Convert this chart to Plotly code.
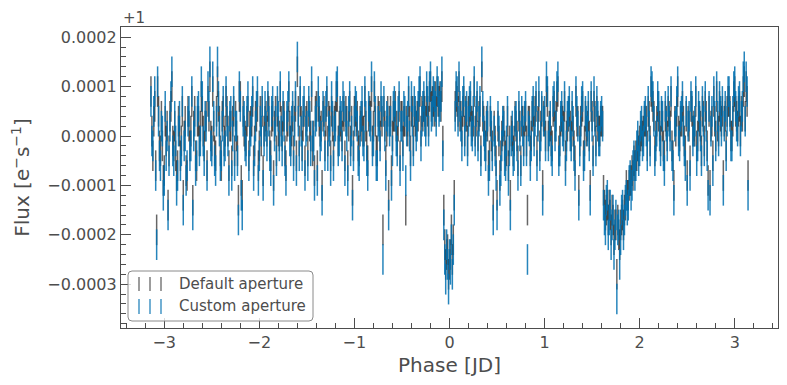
import plotly.graph_objects as go

# ---------------- data: first set of cadences ----------------
# Phase [JD]
phase_a = [
    -3.14, -3.12, -3.10, -3.08, -3.06, -3.04, -3.02, -3.00, -2.98, -2.96,
    -2.94, -2.92, -2.90, -2.88, -2.86, -2.84, -2.82, -2.80, -2.78, -2.76,
    -2.74, -2.72, -2.70, -2.68, -2.66, -2.64, -2.62, -2.60, -2.58, -2.56,
    -2.54, -2.52, -2.50, -2.48, -2.46, -2.44, -2.42, -2.40, -2.38, -2.36,
    -2.34, -2.32, -2.30, -2.28, -2.26, -2.24, -2.22, -2.20, -2.18, -2.16,
    -2.14, -2.12, -2.10, -2.08, -2.06, -2.04, -2.02, -2.00, -1.98, -1.96,
    -1.94, -1.92, -1.90, -1.88, -1.86, -1.84, -1.82, -1.80, -1.78, -1.76,
    -1.74, -1.72, -1.70, -1.68, -1.66, -1.64, -1.62, -1.60, -1.58, -1.56,
    -1.54, -1.52, -1.50, -1.48, -1.46, -1.44, -1.42, -1.40, -1.38, -1.36,
    -1.34, -1.32, -1.30, -1.28, -1.26, -1.24, -1.22, -1.20, -1.18, -1.16,
    -1.14, -1.12, -1.10, -1.08, -1.06, -1.04, -1.02, -1.00, -0.98, -0.96,
    -0.94, -0.92, -0.90, -0.88, -0.86, -0.84, -0.82, -0.80, -0.78, -0.76,
    -0.74, -0.72, -0.70, -0.68, -0.66, -0.64, -0.62, -0.60, -0.58, -0.56,
    -0.54, -0.52, -0.50, -0.48, -0.46, -0.44, -0.42, -0.40, -0.38, -0.36,
    -0.34, -0.32, -0.30, -0.28, -0.26, -0.24, -0.22, -0.20, -0.18, -0.16,
    -0.14, -0.12, -0.10, -0.08,
    -0.07,
    -0.06, -0.05, -0.04, -0.03, -0.02, -0.01, 0.00, 0.01, 0.02, 0.03, 0.04, 0.05,
    0.06, 0.08, 0.10, 0.12, 0.14, 0.16, 0.18, 0.20, 0.22, 0.24,
    0.26, 0.28, 0.30, 0.32, 0.34, 0.36, 0.38, 0.40, 0.42, 0.44,
    0.46, 0.48, 0.50, 0.52, 0.54, 0.56, 0.58, 0.60, 0.62, 0.64,
    0.66, 0.68, 0.70, 0.72, 0.74, 0.76, 0.78, 0.80, 0.82, 0.84,
    0.86, 0.88, 0.90, 0.92, 0.94, 0.96, 0.98, 1.00, 1.02, 1.04,
    1.06, 1.08, 1.10, 1.12, 1.14, 1.16, 1.18, 1.20, 1.22, 1.24,
    1.26, 1.28, 1.30, 1.32, 1.34, 1.36, 1.38, 1.40, 1.42, 1.44,
    1.46, 1.48, 1.50, 1.52, 1.54, 1.56, 1.58, 1.60, 1.62, 1.64,
    1.66, 1.68, 1.70, 1.72, 1.74, 1.76, 1.78, 1.80, 1.82, 1.84,
    1.86, 1.88, 1.90, 1.92, 1.94, 1.96, 1.98, 2.00, 2.02, 2.04,
    2.06, 2.08, 2.10, 2.12, 2.14, 2.16, 2.18, 2.20, 2.22, 2.24,
    2.26, 2.28, 2.30, 2.32, 2.34, 2.36, 2.38, 2.40, 2.42, 2.44,
    2.46, 2.48, 2.50, 2.52, 2.54, 2.56, 2.58, 2.60, 2.62, 2.64,
    2.66, 2.68, 2.70, 2.72, 2.74, 2.76, 2.78, 2.80, 2.82, 2.84,
    2.86, 2.88, 2.90, 2.92, 2.94, 2.96, 2.98, 3.00, 3.02, 3.04,
    3.06, 3.08, 3.10, 3.12, 3.14,
]

# Normalised flux minus 1, in units of 1e-5
flux_default_a = [
    9, -4, 6, -19, 5, -3, -2, -7, -1, -14,
    4, 10, -2, -4, -6, 1, -1, -12, 3, -8,
    2, 1, -13, 5, -6, 3, 2, 5, -2, 4,
    7, 12, -1, 2, -4, 11, 3, -6, 5, 1,
    5, -6, 2, 3, -3, 0, -13, 8, -12, 1,
    -1, 5, 2, 3, -5, 4, 6, -2, -1, -7,
    3, 1, 5, -4, 4, 2, -3, 1, 8, 0,
    4, -6, 3, 2, 1, -3, 6, 13, -1, 3,
    2, -5, 4, 5, 0, -3, -7, 6, 6, 1,
    -10, 5, 3, -1, 3, 5, -3, 4, 8, 2,
    2, 5, -4, 3, 2, -1, -11, 5, 3, -2,
    3, 4, 1, 2, -5, 5, 9, 2, 3, -3,
    4, 5, -19, 2, 1, -12, 5, 0, 4, 2,
    2, -4, 4, 3, -15, 1, 3, 5, -1, 3,
    4, 6, 1, 4, 5, 7, 3, 10, 7, 5,
    5, 7, 8, 10,
    -1,
    -15, -22, -26, -24, -23, -28, -26, -24, -19, -25, -21, -12,
    6, 7, 10, 4, 5, 1, 4, 5, 6, 2,
    9, 3, 0, 5, 12, 3, -2, 2, -4, 0,
    -14, -1, -12, -1, -4, 1, -2, -3, -6, -12,
    0, -1, 2, -5, 2, 3, -1, 4, -15, 3,
    0, 5, 5, -3, 6, 2, -10, 3, 9, 0,
    2, -2, 6, 4, 9, -1, 4, 2, -4, 2,
    5, 0, 1, -5, 3, -11, 3, 6, -1, 1,
    4, -10, 4, 6, -1, 2, 1, 3, -11, -16,
    -14, -14, -19, -17, -18, -28, -20, -18, -16, -15,
    -10, -12, -9, -7, -5, -4, -2, -1, 1, 1,
    3, -2, 4, 9, 6, -3, 3, 4, -1, 2,
    -4, 3, 5, 2, -2, -10, 1, 9, 0, 3,
    3, -3, -8, 2, 6, 1, 1, -2, 4, 2,
    5, -1, 4, -9, -10, 3, 7, 0, 2, 6,
    3, -8, 4, 5, 7, 0, 3, 9, 4, 5,
    1, 4, 11, 10, -8,
]

flux_custom_a = [
    7, -2, 9, -22, 3, -6, 1, -9, -4, -16,
    2, 13, -5, -1, -8, 4, -3, -15, 0, -6,
    5, -2, -16, 3, -4, 6, -1, 8, -5, 2,
    10, 15, -3, 4, -7, 15, 1, -4, 7, -2,
    3, -9, 5, 0, -6, 2, -17, 6, -16, 4,
    -3, 8, -1, 5, -8, 2, 9, -4, 1, -10,
    6, -2, 3, -7, 7, 0, -5, 4, 10, -3,
    2, -9, 6, -1, 3, -6, 8, 16, -4, 1,
    5, -8, 2, 7, -3, 0, -10, 4, 9, -2,
    -13, 3, 6, -4, 1, 8, -6, 2, 11, -1,
    4, 8, -7, 0, 5, -3, -14, 3, 6, -5,
    1, 7, -2, 4, -8, 3, 12, -1, 5, -6,
    2, 8, -25, 0, 4, -16, 3, -3, 7, -1,
    5, -7, 2, 6, -9, 4, 0, 8, -3, 5,
    2, 9, -2, 6, 3, 10, 1, 12, 5, 8,
    3, 9, 6, 13,
    -4,
    -18, -25, -29, -22, -26, -31, -24, -27, -21, -28, -23, -15,
    4, 9, 12, 2, 7, -1, 6, 3, 8, 0,
    11, 5, -2, 7, 15, 1, -4, 4, -6, 2,
    -17, -3, -16, 1, -7, 3, -5, -1, -9, -16,
    2, -4, 4, -8, 0, 5, -3, 6, -25, 1,
    -2, 7, 3, -6, 9, 0, -13, 5, 12, -2,
    4, -5, 8, 2, 12, -3, 6, 0, -7, 4,
    7, -2, 3, -8, 5, -14, 1, 8, -4, 3,
    6, -13, 2, 9, -3, 4, -1, 5, -14, -19,
    -12, -17, -22, -15, -20, -33, -18, -21, -14, -17,
    -12, -14, -8, -10, -4, -6, 0, -3, 3, -1,
    5, -4, 2, 11, 8, -5, 1, 6, -3, 4,
    -7, 2, 7, 0, -4, -13, 3, 11, -2, 5,
    1, -6, -11, 4, 8, -1, 3, -5, 6, 0,
    7, -3, 2, -12, -13, 5, 9, -2, 4, 8,
    1, -11, 6, 3, 9, -2, 5, 11, 2, 7,
    -1, 6, 14, 12, -12,
]

# ---------------- data: second set of cadences ----------------
phase_b = [
    -3.13, -3.11, -3.09, -3.07, -3.05, -3.03, -3.01, -2.99, -2.97, -2.95,
    -2.93, -2.91, -2.89, -2.87, -2.85, -2.83, -2.81, -2.79, -2.77, -2.75,
    -2.73, -2.71, -2.69, -2.67, -2.65, -2.63, -2.61, -2.59, -2.57, -2.55,
    -2.53, -2.51, -2.49, -2.47, -2.45, -2.43, -2.41, -2.39, -2.37, -2.35,
    -2.33, -2.31, -2.29, -2.27, -2.25, -2.23, -2.21, -2.19, -2.17, -2.15,
    -2.13, -2.11, -2.09, -2.07, -2.05, -2.03, -2.01, -1.99, -1.97, -1.95,
    -1.93, -1.91, -1.89, -1.87, -1.85, -1.83, -1.81, -1.79, -1.77, -1.75,
    -1.73, -1.71, -1.69, -1.67, -1.65, -1.63, -1.61, -1.59, -1.57, -1.55,
    -1.53, -1.51, -1.49, -1.47, -1.45, -1.43, -1.41, -1.39, -1.37, -1.35,
    -1.33, -1.31, -1.29, -1.27, -1.25, -1.23, -1.21, -1.19, -1.17, -1.15,
    -1.13, -1.11, -1.09, -1.07, -1.05, -1.03, -1.01, -0.99, -0.97, -0.95,
    -0.93, -0.91, -0.89, -0.87, -0.85, -0.83, -0.81, -0.79, -0.77, -0.75,
    -0.73, -0.71, -0.69, -0.67, -0.65, -0.63, -0.61, -0.59, -0.57, -0.55,
    -0.53, -0.51, -0.49, -0.47, -0.45, -0.43, -0.41, -0.39, -0.37, -0.35,
    -0.33, -0.31, -0.29, -0.27, -0.25, -0.23, -0.21, -0.19, -0.17, -0.15,
    -0.13, -0.11, -0.09,
    0.07, 0.09, 0.11, 0.13, 0.15, 0.17, 0.19, 0.21, 0.23, 0.25,
    0.27, 0.29, 0.31, 0.33, 0.35, 0.37, 0.39, 0.41, 0.43, 0.45,
    0.47, 0.49, 0.51, 0.53, 0.55, 0.57, 0.59, 0.61, 0.63, 0.65,
    0.67, 0.69, 0.71, 0.73, 0.75, 0.77, 0.79, 0.81, 0.83, 0.85,
    0.87, 0.89, 0.91, 0.93, 0.95, 0.97, 0.99, 1.01, 1.03, 1.05,
    1.07, 1.09, 1.11, 1.13, 1.15, 1.17, 1.19, 1.21, 1.23, 1.25,
    1.27, 1.29, 1.31, 1.33, 1.35, 1.37, 1.39, 1.41, 1.43, 1.45,
    1.47, 1.49, 1.51, 1.53, 1.55, 1.57, 1.59, 1.61, 1.63, 1.65,
    1.67, 1.69, 1.71, 1.73, 1.75, 1.77, 1.79, 1.81, 1.83, 1.85,
    1.87, 1.89, 1.91, 1.93, 1.95, 1.97, 1.99, 2.01, 2.03, 2.05,
    2.07, 2.09, 2.11, 2.13, 2.15, 2.17, 2.19, 2.21, 2.23, 2.25,
    2.27, 2.29, 2.31, 2.33, 2.35, 2.37, 2.39, 2.41, 2.43, 2.45,
    2.47, 2.49, 2.51, 2.53, 2.55, 2.57, 2.59, 2.61, 2.63, 2.65,
    2.67, 2.69, 2.71, 2.73, 2.75, 2.77, 2.79, 2.81, 2.83, 2.85,
    2.87, 2.89, 2.91, 2.93, 2.95, 2.97, 2.99, 3.01, 3.03, 3.05,
    3.07, 3.09, 3.11, 3.13,
]

flux_default_b = [
    1, 3, -6, 9, -2, 4, -9, 3, 2, -3,
    6, -1, 2, -8, 3, -4, 5, 0, -7, 5,
    -2, 7, 2, -4, 3, -1, 8, 1, 2, -6,
    4, 0, 9, -3, 5, 6, -3, 4, -1, 7,
    1, 2, -5, 5, 4, -3, 8, -9, 5, 0,
    3, -4, 3, 7, -1, 4, -6, 5, 5, 1,
    4, 6, -2, 3, -8, 5, 5, 0, 3, 4,
    -3, 2, 8, -1, 4, 3, -4, 5, 7, -2,
    5, 3, -3, 2, 8, 0, 5, -6, 3, 2,
    4, -2, 7, 4, -4, 2, 3, 8, -1, 3,
    0, 4, 5, -6, 6, 3, -2, 5, 4, -3,
    2, 1, 7, -2, 4, 4, -1, 8, -3, 5,
    0, 3, 5, -5, 5, 3, -7, 4, 6, -1,
    6, 4, -1, 3, 3, 7, -3, 5, 5, 2,
    4, 9, 5, 6, 3, 5, 8, 6, 7, 8,
    9, 7, 6,
    8, 5, 4, 1, 7, 5, -1, 5, 3, 3,
    1, 6, 4, -3, 4, 0, 3, -6, 3, -2,
    2, -5, 2, -8, 0, 3, -4, 3, -1, 1,
    -3, 4, 0, 4, -5, 3, 3, -1, 3, -3,
    4, 1, 6, 3, -2, 5, 4, 0, 7, 2,
    -1, 5, 2, 8, -3, 3, 3, 6, 0, 4,
    2, 4, -2, 7, 3, -1, 5, -4, 4, 2,
    0, 6, -3, 4, 5, 1, 3, 3, -14, -15,
    -17, -16, -15, -21, -18, -17, -22, -17, -18, -14,
    -12, -10, -9, -8, -6, -4, -3, 0, 0, 3,
    3, 5, -1, 8, 4, 0, 6, 2, 4, -2,
    4, 0, 4, 7, -4, 3, 5, 1, 3, 6,
    -1, 4, 3, -5, 5, 2, 7, 0, 3, -3,
    4, 6, -2, 5, 2, -4, 3, 8, 1, 4,
    5, 3, -2, 7, 5, 0, 8, 5, 2, 6,
    5, 9, 4, 7,
]

flux_custom_b = [
    -1, 5, -8, 11, -4, 2, -12, 6, 0, -5,
    8, -3, 4, -11, 1, -6, 7, -2, -9, 3,
    -4, 9, 0, -7, 5, -3, 11, -1, 4, -8,
    6, -2, 12, -5, 3, 8, -6, 2, -3, 9,
    -1, 4, -8, 7, 2, -5, 10, -12, 3, -2,
    5, -6, 1, 9, -3, 6, -9, 3, 7, -1,
    2, 8, -4, 5, -11, 3, 7, -2, 1, 6,
    -5, 4, 10, -3, 6, 1, -7, 3, 9, -4,
    7, 1, -6, 4, 11, -2, 3, -9, 5, 0,
    6, -4, 9, 2, -7, 4, 1, 10, -3, 5,
    -2, 6, 3, -9, 8, 1, -4, 7, 2, -6,
    4, -1, 9, -5, 6, 2, -3, 10, -6, 3,
    -2, 5, 7, -8, 3, 1, -10, 6, 4, -3,
    8, 2, -4, 5, 1, 9, -6, 3, 7, 0,
    6, 11, 3, 8, 1, 7, 10, 4, 9, 6,
    11, 5, 8,
    10, 3, 6, -2, 9, 4, -3, 7, 1, 5,
    -1, 8, 3, -5, 6, -2, 2, -9, 5, -4,
    1, -8, 4, -11, -2, 2, -6, 5, -3, -1,
    -5, 3, -2, 6, -7, 1, 4, -3, 2, -6,
    5, -1, 8, 2, -4, 6, 3, -2, 9, 1,
    -3, 7, 0, 10, -5, 4, 1, 8, -2, 5,
    0, 6, -4, 9, 2, -3, 7, -6, 5, 1,
    -2, 8, -5, 3, 7, -1, 4, 2, -17, -13,
    -20, -14, -18, -24, -16, -19, -26, -15, -20, -13,
    -15, -9, -12, -6, -8, -2, -5, 2, -2, 4,
    1, 7, -3, 10, 3, -2, 8, 0, 5, -4,
    6, -2, 3, 9, -6, 2, 7, -1, 4, 8,
    -3, 5, 2, -8, 6, 1, 9, -2, 4, -5,
    3, 8, -4, 6, 1, -7, 4, 10, -1, 5,
    7, 2, -4, 9, 4, -2, 10, 6, 1, 8,
    4, 12, 3, 9,
]

flux_err_e5 = 3.1  # typical 1-sigma uncertainty, 1e-5 units

labels = ["Default aperture", "Custom aperture"]
colors = ["rgba(0,0,0,0.6)", "rgba(0,112,176,0.85)"]

SCALE = 1e-5
phase_all = phase_a + phase_b
series = [flux_default_a + flux_default_b, flux_custom_a + flux_custom_b]

fig = go.Figure()
for vals, name, col in zip(series, labels, colors):
    fig.add_trace(go.Scatter(
        x=phase_all,
        y=[v * SCALE for v in vals],
        mode="markers",
        name=name,
        marker=dict(size=1, opacity=0, color=col),
        error_y=dict(type="constant", value=flux_err_e5 * SCALE, width=0,
                     thickness=1.5, color=col),
        showlegend=False,
        hoverinfo="skip",
    ))

TXT = "#4d4d4d"
FONT = "DejaVu Sans"

# The page is shown with the browser's default 8 px body margin, so the
# figure is made 8 px smaller and its margins shifted accordingly.
OFF = 8
ML, MR, MT, MB = 121 - OFF, 9, 27 - OFF, 57
FW, FH = 787 - OFF, 385 - OFF

fig.update_layout(
    template="none",
    width=FW, height=FH,
    margin=dict(l=ML, r=MR, t=MT, b=MB, autoexpand=False),
    paper_bgcolor="white", plot_bgcolor="white",
    font=dict(family=FONT, color=TXT, size=16),
)
fig.update_xaxes(
    automargin=False,
    range=[-3.455, 3.455],
    showgrid=False, zeroline=False,
    showline=True, linecolor=TXT, linewidth=1.2, mirror=True,
    ticks="inside", ticklen=10, tickwidth=1, tickcolor=TXT,
    dtick=1, tick0=0,
    minor=dict(ticks="inside", ticklen=5, tickwidth=1, tickcolor=TXT, dtick=0.2, showgrid=False),
    tickfont=dict(size=16, color=TXT),
    title=dict(text="Phase [JD]", font=dict(size=20, color=TXT), standoff=6),
)
fig.update_yaxes(
    automargin=False,
    range=[-3.887e-4, 2.207e-4],
    showgrid=False, zeroline=False,
    showline=True, linecolor=TXT, linewidth=1.2, mirror=True,
    ticks="inside", ticklen=10, tickwidth=1, tickcolor=TXT,
    dtick=1e-4, tick0=0, tickformat=".4f",
    minor=dict(ticks="inside", ticklen=5, tickwidth=1, tickcolor=TXT, dtick=2e-5, showgrid=False),
    tickfont=dict(size=16, color=TXT),
    title=dict(text="Flux [e<sup>−</sup>s<sup>−1</sup>]", font=dict(size=20, color=TXT), standoff=12),
)

# legend / offset-text positions in screen pixels of the reference,
# converted to paper fractions
W, H = 657.0, 301.0
def px(xp):
    return (xp - 121) / W
def py(yp):
    return (328 - yp) / H

# offset text
fig.add_annotation(xref="paper", yref="paper", x=0, y=py(18.5), xanchor="left", yanchor="middle",
                   text="+1", showarrow=False, font=dict(size=15, color=TXT))

x0, x1, y0, y1, r = 128, 313, 271, 321, 4
path = (f"M {px(x0 + r)} {py(y0)} L {px(x1 - r)} {py(y0)} Q {px(x1)} {py(y0)} {px(x1)} {py(y0 + r)} "
        f"L {px(x1)} {py(y1 - r)} Q {px(x1)} {py(y1)} {px(x1 - r)} {py(y1)} "
        f"L {px(x0 + r)} {py(y1)} Q {px(x0)} {py(y1)} {px(x0)} {py(y1 - r)} "
        f"L {px(x0)} {py(y0 + r)} Q {px(x0)} {py(y0)} {px(x0 + r)} {py(y0)} Z")
fig.add_shape(type="path", xref="paper", yref="paper", path=path,
              fillcolor="rgba(255,255,255,0.8)", line=dict(color="#8a8a8a", width=1), layer="above")

rows = [(277, 291, 284), (299, 314, 306)]
for (ya, yb, yc), name, col in zip(rows, labels, colors):
    for hx in (139, 150, 161):
        fig.add_shape(type="line", xref="paper", yref="paper",
                      x0=px(hx), x1=px(hx), y0=py(ya), y1=py(yb),
                      line=dict(color=col, width=1.3), layer="above")
    fig.add_annotation(xref="paper", yref="paper", x=px(177), y=py(yc),
                       xanchor="left", yanchor="middle", text=name, showarrow=False,
                       font=dict(size=15, color=TXT))

fig.write_html("out.html")
